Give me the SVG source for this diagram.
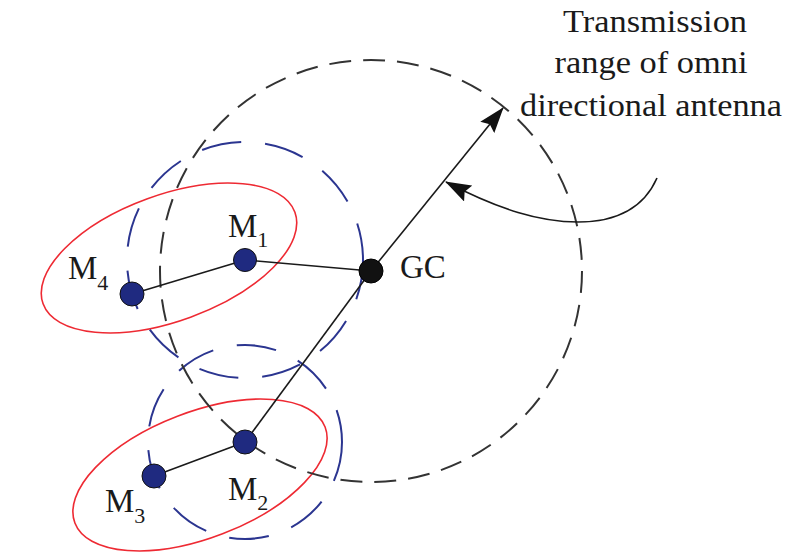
<svg xmlns="http://www.w3.org/2000/svg" width="786" height="552" viewBox="0 0 786 552">
<style>
text{font-family:"Liberation Serif","Times New Roman",serif;fill:#1a1a1a}
.lbl{font-size:33px}
.sub{font-size:22px}
.ann{font-size:32px;text-anchor:middle}
.red{fill:none;stroke:#ee2a33;stroke-width:1.6}
.blue{fill:none;stroke:#2b3590;stroke-width:2;stroke-dasharray:40 24}
.range{fill:none;stroke:#333;stroke-width:2;stroke-dasharray:22 12}
.link{stroke:#1a1a1a;stroke-width:1.6;fill:none}
.mn{fill:#1f2a80;stroke:#111;stroke-width:1}
.gc{fill:#111;stroke:#000;stroke-width:1}
</style>
<defs>
<marker id="ah" viewBox="0 0 26 18" refX="25" refY="9" markerWidth="26" markerHeight="18" markerUnits="userSpaceOnUse" orient="auto">
<path d="M0,0 L26,9 L0,18 L4,9 Z" fill="#111"/>
</marker>
</defs>
<g id="clusters">
<ellipse class="red" cx="169" cy="258" rx="134" ry="63" transform="rotate(-20 169 258)"/>
<ellipse class="red" cx="200" cy="475" rx="134" ry="63" transform="rotate(-21 200 475)"/>
<circle class="blue" cx="245" cy="260" r="118"/>
<circle class="blue" cx="245" cy="442" r="97"/>
<circle class="range" cx="371" cy="271" r="211"/>
</g>
<g id="connectors">
<line class="link" x1="132" y1="294" x2="245" y2="260"/>
<line class="link" x1="245" y1="260" x2="371" y2="271"/>
<line class="link" x1="154" y1="476" x2="245" y2="442"/>
<line class="link" x1="245" y1="442" x2="371" y2="271"/>
<line class="link" x1="371" y1="271" x2="503" y2="108" marker-end="url(#ah)"/>
<path class="link" d="M657,178 C642,212 612,222 578,222 C540,222 500,210 446,182" marker-end="url(#ah)"/>
</g>
<g id="M1"><circle class="mn" cx="245" cy="260" r="11.5"/><text class="lbl" x="228" y="237">M<tspan class="sub" dy="10">1</tspan></text></g>
<g id="M4"><circle class="mn" cx="132" cy="294" r="12"/><text class="lbl" x="68" y="279">M<tspan class="sub" dy="11">4</tspan></text></g>
<g id="M2"><circle class="mn" cx="245" cy="442" r="12"/><text class="lbl" x="228" y="500">M<tspan class="sub" dy="10">2</tspan></text></g>
<g id="M3"><circle class="mn" cx="154" cy="476" r="12"/><text class="lbl" x="105" y="512">M<tspan class="sub" dy="11">3</tspan></text></g>
<g id="GC"><circle class="gc" cx="371" cy="271" r="12"/><text class="lbl" x="400" y="278">GC</text></g>
<g id="annotation">
<text class="ann" x="655" y="32" textLength="184" lengthAdjust="spacingAndGlyphs">Transmission</text>
<text class="ann" x="651" y="73" textLength="193" lengthAdjust="spacingAndGlyphs">range of omni</text>
<text class="ann" x="651" y="116" textLength="262" lengthAdjust="spacingAndGlyphs">directional antenna</text>
</g>
</svg>
